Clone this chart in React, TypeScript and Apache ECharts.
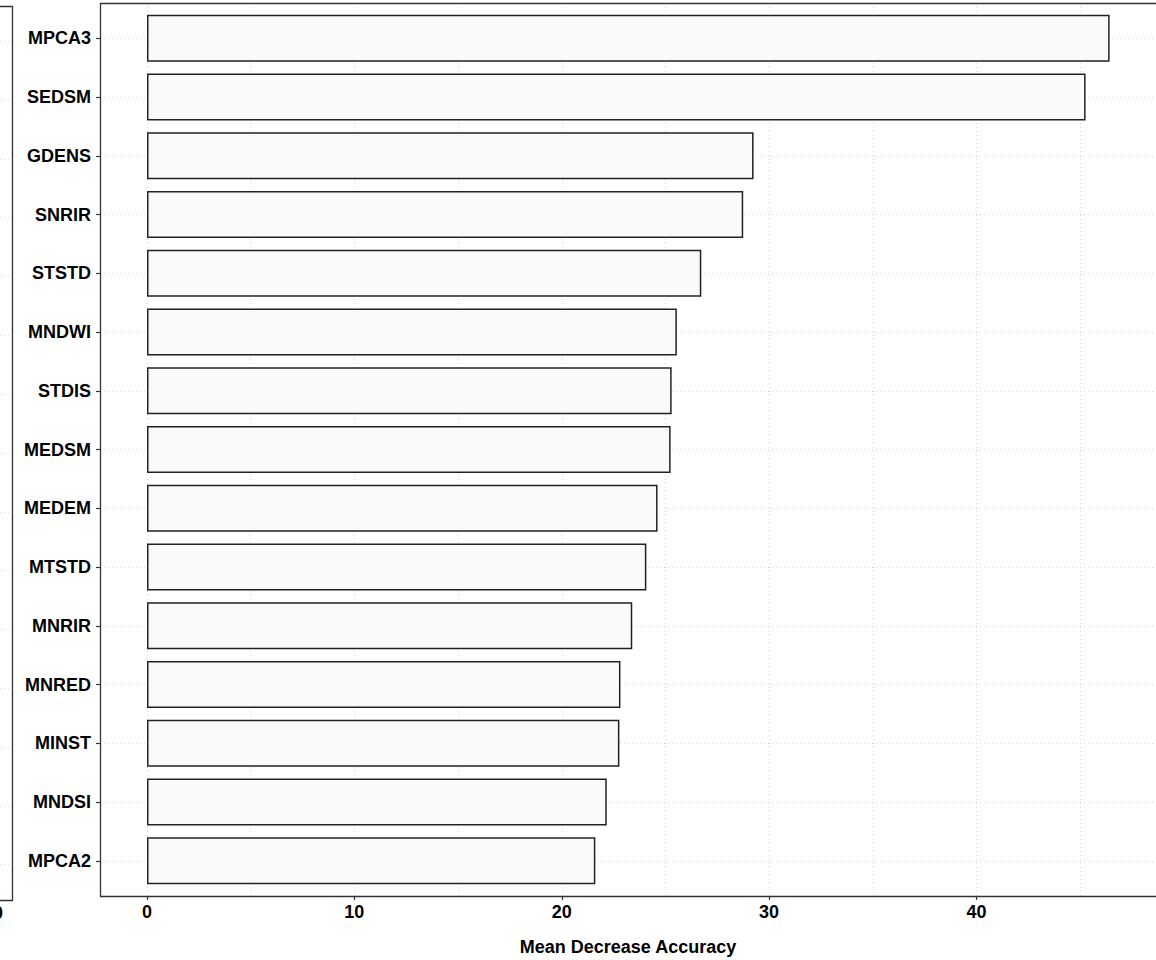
import React, { useEffect, useRef } from "react";
import * as echarts from "echarts";

const categories = [
  "MPCA3", "SEDSM", "GDENS", "SNRIR", "STSTD", "MNDWI", "STDIS", "MEDSM",
  "MEDEM", "MTSTD", "MNRIR", "MNRED", "MINST", "MNDSI", "MPCA2",
];
const values = [
  46.42, 45.26, 29.25, 28.75, 26.73, 25.55, 25.3, 25.25,
  24.62, 24.08, 23.4, 22.83, 22.78, 22.17, 21.62,
];
const xAxisTitle = "Mean Decrease Accuracy";
const xMajor = 10;
const xMaxVal = 49.5;
const leftPanelTickLabel = "0";

const FONT = "'Liberation Sans', Arial, Helvetica, sans-serif";
const PX = (976.5 - 147) / 40; // px per unit
const ZERO_X = 147;
const PLOT_L = 100;
const PLOT_T = 3;
const PLOT_B = 896;
const xMinVal = -(ZERO_X - PLOT_L) / PX;
const band = (PLOT_B - PLOT_T) / (categories.length - 1 + 1.2);

const gridColor = "#d6d6d6";
const dotted = { color: gridColor, type: [1, 3], width: 1 };

export default function App() {
  const ref = useRef<HTMLDivElement>(null);
  useEffect(() => {
    if (!ref.current) return;
    const chart = echarts.init(ref.current, null, { renderer: "svg" });
    const lpTop = 6;
    const lpBot = 900;
    const lpBand = (lpBot - lpTop) / (categories.length - 1 + 1.2);
    chart.setOption({
      animation: false,
      backgroundColor: "#ffffff",
      grid: [
        {
          left: PLOT_L,
          top: PLOT_T + 0.6 * band,
          width: (xMaxVal - xMinVal) * PX,
          height: (categories.length - 1) * band,
          outerBoundsMode: "none",
          containLabel: false,
        },
        {
          left: ZERO_X,
          top: PLOT_T,
          width: xMaxVal * PX,
          height: PLOT_B - PLOT_T,
          outerBoundsMode: "none",
          containLabel: false,
        },
        {
          left: -300,
          top: lpTop + 0.6 * lpBand,
          width: 312,
          height: (categories.length - 1) * lpBand,
          outerBoundsMode: "none",
          containLabel: false,
        },
      ],
      xAxis: [
        { type: "value", gridIndex: 0, min: xMinVal, max: xMaxVal, show: false },
        {
          type: "value",
          gridIndex: 1,
          min: 0,
          max: xMaxVal,
          interval: xMajor,
          axisLine: { show: false, onZero: false },
          axisTick: { show: true, length: 4, lineStyle: { color: "#333", width: 1.2 } },
          axisLabel: {
            margin: 7,
            fontFamily: FONT,
            fontWeight: "bold",
            fontSize: 18,
            color: "#000",
            formatter: (v: number) => (Math.abs(v % xMajor) < 1e-9 ? String(v) : ""),
          },
          splitLine: { show: true, lineStyle: dotted },
          minorTick: { show: false, splitNumber: 2 },
          minorSplitLine: { show: true, lineStyle: dotted },
        },
        { type: "value", gridIndex: 2, show: false },
      ],
      yAxis: [
        {
          type: "category",
          gridIndex: 0,
          inverse: true,
          boundaryGap: false,
          data: categories,
          axisLine: { show: false, onZero: false },
          axisTick: { show: true, length: 4, lineStyle: { color: "#333", width: 1.2 } },
          axisLabel: {
            interval: 0,
            margin: 9,
            fontFamily: FONT,
            fontWeight: "bold",
            fontSize: 18,
            color: "#000",
          },
          splitLine: { show: true, lineStyle: dotted },
        },
        { type: "value", gridIndex: 1, show: false },
        {
          type: "category",
          gridIndex: 2,
          inverse: true,
          boundaryGap: false,
          data: categories,
          axisLine: { show: false, onZero: false },
          axisTick: { show: false },
          axisLabel: { show: false },
          splitLine: { show: true, lineStyle: dotted },
        },
      ],
      series: [
        {
          type: "bar",
          xAxisIndex: 0,
          yAxisIndex: 0,
          data: values,
          barWidth: "80%",
          clip: false,
          silent: true,
          itemStyle: { color: "#fafafa", borderColor: "#222", borderWidth: 1.5 },
          z: 5,
        },
      ],
      graphic: [
        {
          type: "rect",
          z: 100,
          silent: true,
          shape: { x: PLOT_L + 0.5, y: PLOT_T + 0.5, width: 1070, height: PLOT_B - PLOT_T },
          style: { fill: "none", stroke: "#333", lineWidth: 1.3 },
        },
        {
          type: "rect",
          z: 100,
          silent: true,
          shape: { x: -300, y: lpTop + 0.5, width: 312.5, height: lpBot - lpTop },
          style: { fill: "none", stroke: "#333", lineWidth: 1.3 },
        },
        {
          type: "text",
          z: 100,
          silent: true,
          x: -2,
          y: 913,
          style: {
            text: leftPanelTickLabel,
            fontFamily: FONT,
            fontWeight: "bold",
            fontSize: 18,
            fill: "#000",
            textAlign: "center",
            textVerticalAlign: "middle",
          },
        },
        {
          type: "text",
          z: 100,
          silent: true,
          x: 628,
          y: 947,
          style: {
            text: xAxisTitle,
            fontFamily: FONT,
            fontWeight: "bold",
            fontSize: 18,
            fill: "#000",
            textAlign: "center",
            textVerticalAlign: "middle",
          },
        },
      ],
    });
    return () => chart.dispose();
  }, []);
  return (
    <div
      ref={ref}
      style={{ position: "absolute", left: 0, top: 0, width: 1156, height: 960, background: "#fff" }}
    />
  );
}
